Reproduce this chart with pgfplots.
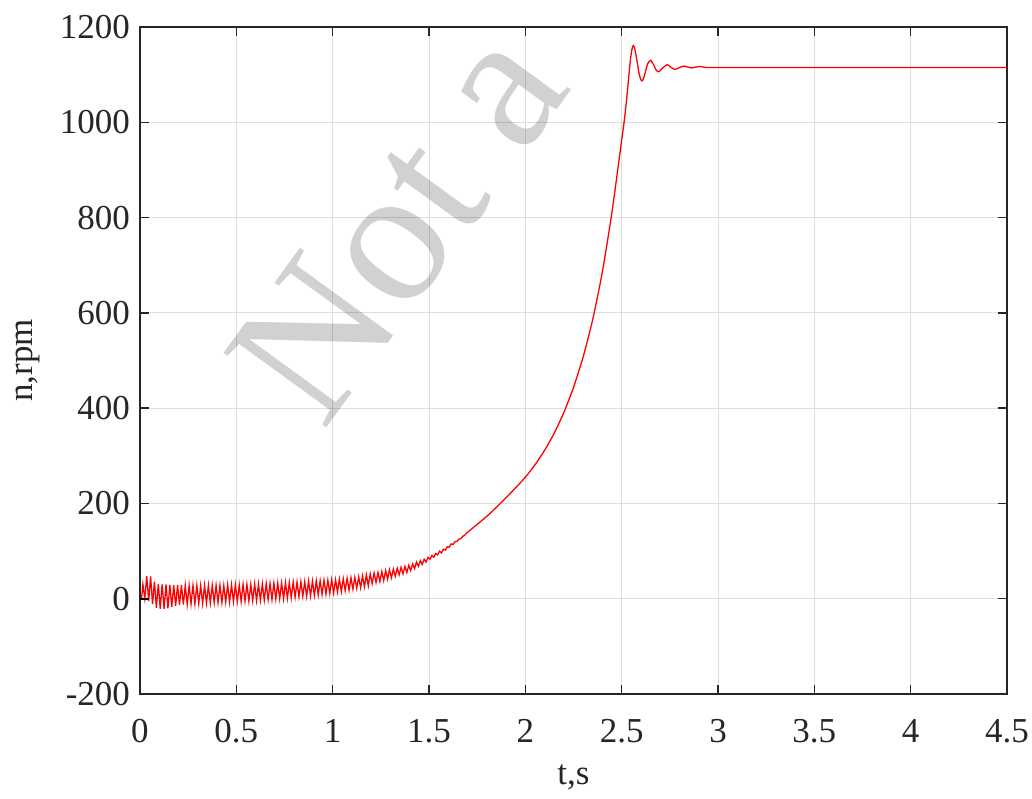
\documentclass[border=0pt]{standalone}
\usepackage{fontspec}
\setmainfont{Liberation Serif}
\usepackage{pgfplots}
\pgfplotsset{compat=1.18}
\begin{document}
\begin{tikzpicture}
\begin{axis}[
  scale only axis, width=433.5pt, height=333.5pt,
  xmin=0, xmax=4.5, ymin=-200, ymax=1200,
  xtick={0,0.5,1,1.5,2,2.5,3,3.5,4,4.5},
  ytick={-200,0,200,400,600,800,1000,1200},
  tick align=inside, major tick length=4.5pt,
  grid=major, major grid style={color=black!13, line width=0.5pt},
  axis line style={color=black!85, line width=0.65pt},
  tick style={color=black!85, line width=0.65pt},
  ticklabel style={font=\fontsize{17.5}{20}\selectfont, color=black!85},
  /pgf/number format/assume math mode=true,
  scaled ticks=false, /pgf/number format/1000 sep={},
  xticklabel style={yshift=-9pt},
  yticklabel style={xshift=-1.5pt},
  xlabel={t,s}, ylabel={n,rpm},
  label style={font=\fontsize{17.5}{20}\selectfont, color=black!85},
  xlabel style={at={(axis description cs:0.5,-0.135)}, anchor=base},
  ylabel style={at={(axis description cs:-0.129,0.5)}, anchor=center},
  clip=false,
]
\node[rotate=54, anchor=base west, inner sep=0pt, text=black, text opacity=0.18,
      font=\fontsize{97}{97}\selectfont] at (axis cs:0.95,349) {Not a};
\addplot[red, line width=0.65pt] coordinates {
(0,0) (0.008,0)
(0.015,30) (0.025,0) (0.035,48) (0.045,-5) (0.055,47) (0.065,-11) (0.075,36) (0.085,-19) (0.095,31) (0.105,-21)
(0.115,30) (0.125,-21) (0.135,30) (0.145,-20) (0.155,29) (0.165,-17) (0.175,29) (0.185,-15) (0.195,29) (0.205,-13)
(0.215,29) (0.225,-12) (0.235,28) (0.245,-12) (0.255,28) (0.265,-11) (0.275,28) (0.285,-11) (0.295,28) (0.305,-10)
(0.315,28) (0.325,-10) (0.335,28) (0.345,-9) (0.355,28) (0.365,-9) (0.375,28) (0.385,-8) (0.395,28) (0.405,-8)
(0.415,28) (0.425,-8) (0.435,28) (0.445,-7) (0.455,29) (0.465,-7) (0.475,29) (0.485,-6) (0.495,29) (0.505,-6)
(0.515,29) (0.525,-6) (0.535,30) (0.545,-5) (0.555,30) (0.565,-5) (0.575,30) (0.585,-4) (0.595,31) (0.605,-4)
(0.615,31) (0.625,-3) (0.635,31) (0.645,-3) (0.655,32) (0.665,-2) (0.675,32) (0.685,-2) (0.695,33) (0.705,-1)
(0.715,33) (0.725,0) (0.735,33) (0.745,0) (0.755,34) (0.765,1) (0.775,34) (0.785,2) (0.795,35) (0.805,3)
(0.815,35) (0.825,4) (0.835,36) (0.845,5) (0.855,36) (0.865,5) (0.875,37) (0.885,6) (0.895,37) (0.905,7)
(0.915,38) (0.925,8) (0.935,38) (0.945,9) (0.955,39) (0.965,10) (0.975,39) (0.985,11) (0.995,40) (1.005,12)
(1.015,40) (1.025,14) (1.035,41) (1.045,15) (1.055,42) (1.065,17) (1.075,43) (1.085,18) (1.095,44) (1.105,20)
(1.115,45) (1.125,22) (1.135,46) (1.145,23) (1.155,48) (1.165,25) (1.175,50) (1.185,27) (1.195,52) (1.205,32)
(1.215,54) (1.225,34) (1.235,55) (1.245,36) (1.255,57) (1.265,38) (1.275,59) (1.285,41) (1.295,61) (1.305,44)
(1.315,62) (1.325,47) (1.335,64) (1.345,50) (1.355,66) (1.365,52) (1.375,68) (1.385,55) (1.395,70) (1.405,59)
(1.415,73) (1.425,63) (1.435,77) (1.445,68) (1.455,80) (1.465,72) (1.475,83) (1.485,77) (1.495,87) (1.505,83)
(1.515,91) (1.525,87) (1.535,95) (1.545,92) (1.555,100) (1.565,96) (1.575,104) (1.585,102) (1.595,109) (1.605,108)
(1.615,115) (1.625,114) (1.635,120) (1.645,120) (1.655,125) (1.665,126) (1.675,131) (1.685,133) (1.695,138) (1.705,141)
};
\addplot[red, line width=0.65pt, smooth, tension=0.4] coordinates {
(1.705,141) (1.75,156) (1.80,173) (1.85,192) (1.90,212) (1.95,233) (2.0,255) (2.05,281) (2.1,311.5) (2.15,347.5)
(2.2,391) (2.25,443.5) (2.3,507.5) (2.35,586.5) (2.4,686.5) (2.45,812.5) (2.5,962.5) (2.514,1005)
(2.525,1045) (2.535,1088) (2.545,1130) (2.553,1152) (2.56,1161) (2.567,1156) (2.577,1135) (2.59,1103)
(2.6,1089) (2.608,1087) (2.618,1098) (2.635,1123) (2.651,1130) (2.665,1121) (2.68,1109)
(2.694,1106) (2.71,1113) (2.737,1121) (2.757,1115) (2.777,1111) (2.80,1115) (2.823,1118) (2.843,1116)
(2.863,1114) (2.885,1116) (2.907,1117) (2.93,1115.5) (2.95,1115) (3.0,1115) (3.5,1115) (4.0,1115) (4.5,1115)
};
\addplot[black, line width=0.8pt] coordinates {(0,0) (0.045,0)};
\end{axis}
\pgfresetboundingbox
\useasboundingbox ([shift={(-70pt,-52pt)}]current axis.south west) rectangle ([shift={(12.5pt,13.5pt)}]current axis.north east);
\end{tikzpicture}
\end{document}
